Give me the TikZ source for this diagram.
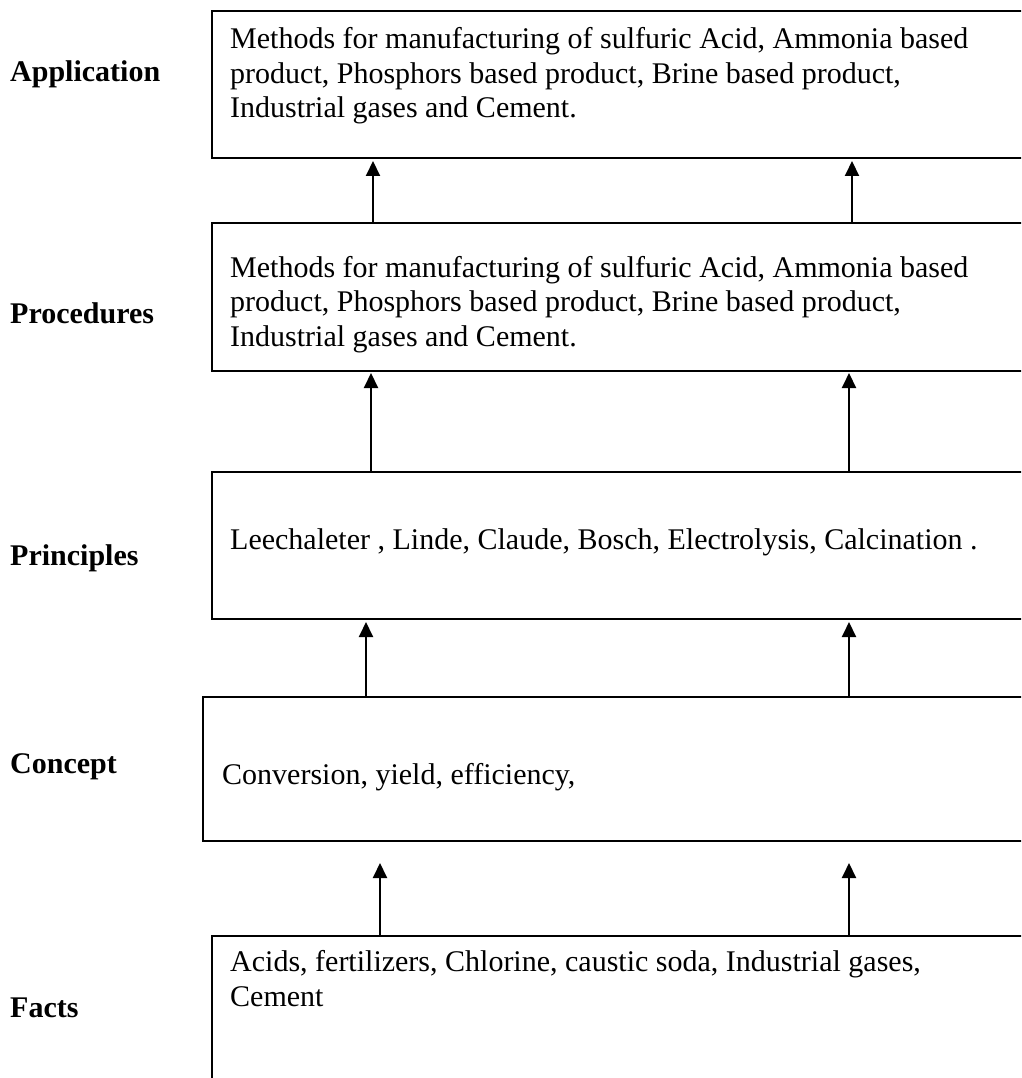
\documentclass[tikz,border=0pt]{standalone}
\usepackage{fontspec}
\setmainfont{Liberation Serif}
\usetikzlibrary{arrows.meta}
\begin{document}
\begin{tikzpicture}[x=1pt,y=-1pt,
  every node/.style={font=\fontsize{30}{34.5}\selectfont},
  levelbox/.style={draw, line width=2pt, rectangle, anchor=north west, inner sep=0pt, minimum width=840pt},
  boxtext/.style={anchor=base west, inner sep=0pt, align=left},
  levellabel/.style={anchor=base west, inner sep=0pt, font=\fontsize{30}{34.5}\selectfont\bfseries},
  uparrow/.style={line width=2pt, -{Triangle[length=15pt,width=14pt]}}
]
\useasboundingbox (0,0) rectangle (1021,1078);
\clip (0,0) rectangle (1021,1078);

% level boxes (they run past the right and bottom edges)
\node[levelbox, minimum height=147pt] (app)     at (211,10)  {};
\node[levelbox, minimum height=148pt] (proc)    at (211,222) {};
\node[levelbox, minimum height=147pt] (princ)   at (211,471) {};
\node[levelbox, minimum height=144pt] (concept) at (202,696) {};
\node[levelbox, minimum height=200pt] (facts)   at (211,935) {};

% level names
\node[levellabel] (lapp)     at (10,82)   {Application};
\node[levellabel] (lproc)    at (10,323)  {Procedures};
\node[levellabel] (lprinc)   at (10,565)  {Principles};
\node[levellabel] (lconcept) at (10,773)  {Concept};
\node[levellabel] (lfacts)   at (10,1017) {Facts};

% box contents (base anchor of a multi-line node sits on its last line)
\node[boxtext] (tapp) at (230,118) {Methods for manufacturing of sulfuric Acid, Ammonia based\\product, Phosphors based product, Brine based product,\\Industrial gases and Cement.};
\node[boxtext] (tproc) at (230,346) {Methods for manufacturing of sulfuric Acid, Ammonia based\\product, Phosphors based product, Brine based product,\\Industrial gases and Cement.};
\node[boxtext] (tprinc) at (230,549) {Leechaleter , Linde, Claude, Bosch, Electrolysis, Calcination .};
\node[boxtext] (tconcept) at (222,784) {Conversion, yield, efficiency,};
\node[boxtext] (tfacts) at (230,1006) {Acids, fertilizers, Chlorine, caustic soda, Industrial gases,\\Cement};

% arrow tips, just below the box above
\coordinate (a1l) at (373,161);  \coordinate (a1r) at (852,161);
\coordinate (a2l) at (371,373);  \coordinate (a2r) at (849,373);
\coordinate (a3l) at (366,622);  \coordinate (a3r) at (849,622);
\coordinate (a4l) at (380,863);  \coordinate (a4r) at (849,863);

\draw[uparrow] (a1l |- proc.north) -- (a1l);
\draw[uparrow] (a1r |- proc.north) -- (a1r);
\draw[uparrow] (a2l |- princ.north) -- (a2l);
\draw[uparrow] (a2r |- princ.north) -- (a2r);
\draw[uparrow] (a3l |- concept.north) -- (a3l);
\draw[uparrow] (a3r |- concept.north) -- (a3r);
\draw[uparrow] (a4l |- facts.north) -- (a4l);
\draw[uparrow] (a4r |- facts.north) -- (a4r);
\end{tikzpicture}
\end{document}
